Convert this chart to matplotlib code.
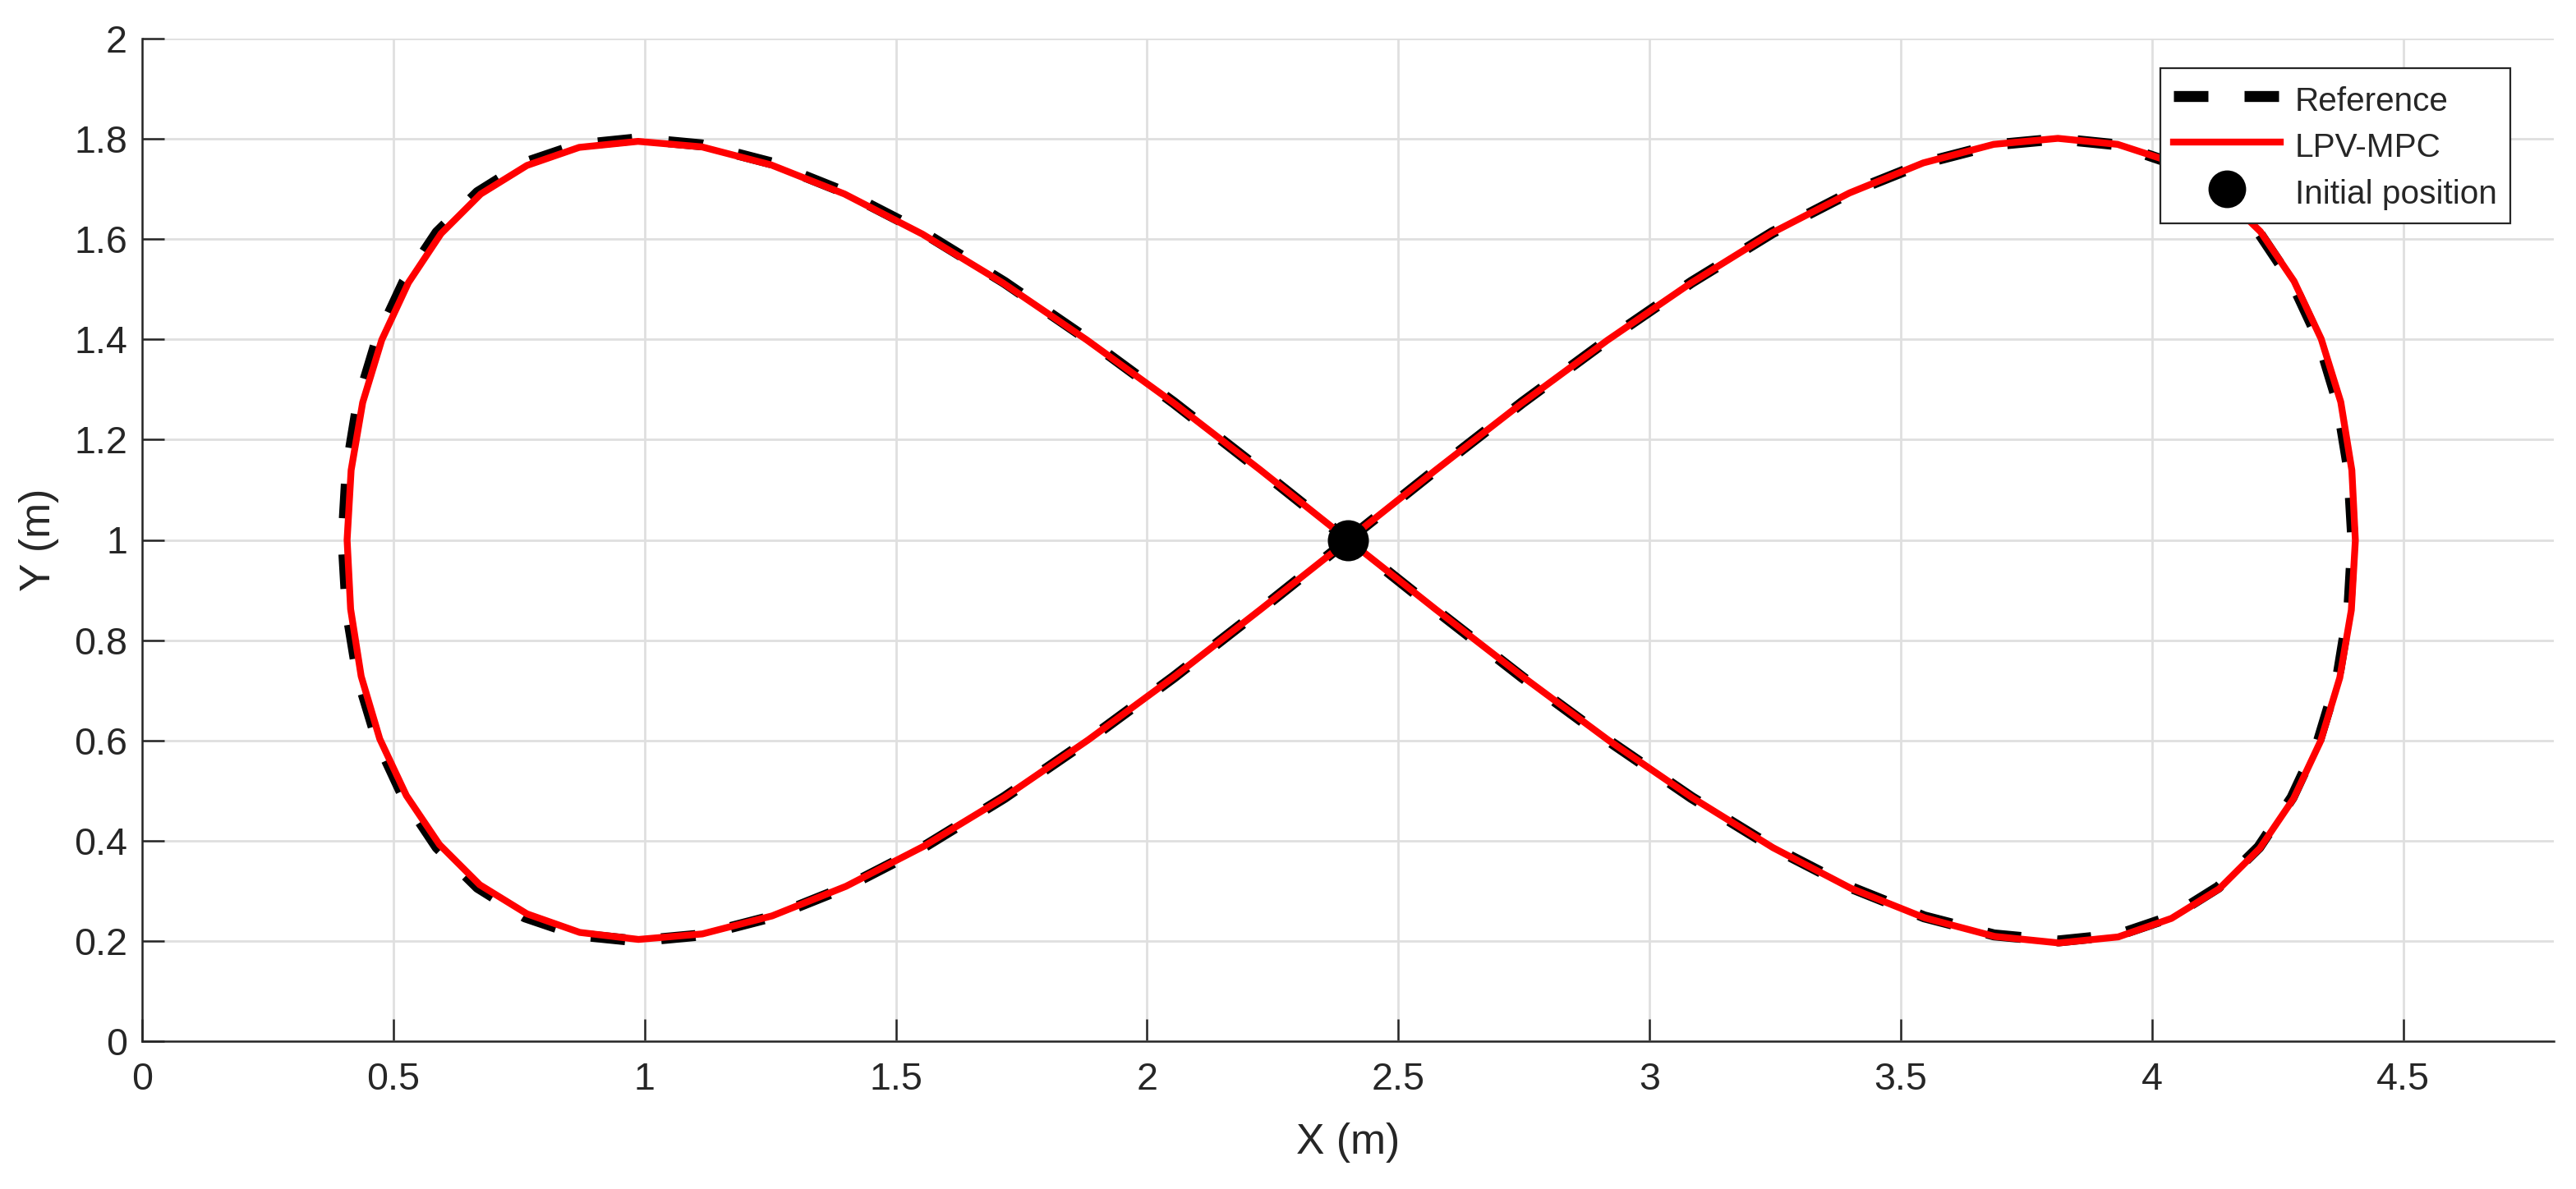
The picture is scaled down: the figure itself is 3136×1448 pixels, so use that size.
import matplotlib
matplotlib.use("Agg")
import matplotlib.pyplot as plt

# Reference trajectory (figure-eight)
x_ref = [2.400, 2.574, 2.747, 2.918, 3.084, 3.245, 3.400, 3.547, 3.686, 3.814,
         3.932, 4.038, 4.132, 4.213, 4.279, 4.332, 4.370, 4.392, 4.400,
         4.392, 4.370, 4.332, 4.279, 4.213, 4.132, 4.038, 3.932, 3.814,
         3.686, 3.547, 3.400, 3.245, 3.084, 2.918, 2.747, 2.574, 2.400,
         2.226, 2.053, 1.882, 1.716, 1.555, 1.400, 1.253, 1.114, 0.986,
         0.868, 0.762, 0.668, 0.587, 0.521, 0.468, 0.430, 0.408, 0.400,
         0.408, 0.430, 0.468, 0.521, 0.587, 0.668, 0.762, 0.868, 0.986,
         1.114, 1.253, 1.400, 1.555, 1.716, 1.882, 2.053, 2.226, 2.400]
y_ref = [1.000, 1.139, 1.274, 1.400, 1.514, 1.613, 1.693, 1.752, 1.788, 1.800,
         1.788, 1.752, 1.693, 1.613, 1.514, 1.400, 1.274, 1.139, 1.000,
         0.861, 0.726, 0.600, 0.486, 0.387, 0.307, 0.248, 0.212, 0.200,
         0.212, 0.248, 0.307, 0.387, 0.486, 0.600, 0.726, 0.861, 1.000,
         1.139, 1.274, 1.400, 1.514, 1.613, 1.693, 1.752, 1.788, 1.800,
         1.788, 1.752, 1.693, 1.613, 1.514, 1.400, 1.274, 1.139, 1.000,
         0.861, 0.726, 0.600, 0.486, 0.387, 0.307, 0.248, 0.212, 0.200,
         0.212, 0.248, 0.307, 0.387, 0.486, 0.600, 0.726, 0.861, 1.000]

# LPV-MPC tracked trajectory
x_mpc = [2.400, 2.573, 2.745, 2.916, 3.082, 3.243, 3.398, 3.545, 3.685, 3.813,
         3.932, 4.039, 4.134, 4.216, 4.283, 4.337, 4.376, 4.398, 4.405,
         4.397, 4.374, 4.336, 4.282, 4.215, 4.134, 4.039, 3.933, 3.815,
         3.687, 3.548, 3.401, 3.246, 3.085, 2.919, 2.748, 2.574, 2.399,
         2.225, 2.052, 1.880, 1.714, 1.553, 1.398, 1.252, 1.114, 0.987,
         0.870, 0.766, 0.674, 0.595, 0.530, 0.477, 0.439, 0.416, 0.408,
         0.415, 0.436, 0.473, 0.526, 0.592, 0.672, 0.766, 0.871, 0.988,
         1.115, 1.254, 1.401, 1.556, 1.717, 1.883, 2.054, 2.227, 2.401]
y_mpc = [1.000, 1.138, 1.272, 1.398, 1.512, 1.612, 1.692, 1.752, 1.789, 1.801,
         1.789, 1.754, 1.695, 1.615, 1.516, 1.401, 1.275, 1.139, 0.999,
         0.860, 0.725, 0.599, 0.484, 0.385, 0.304, 0.245, 0.208, 0.196,
         0.209, 0.246, 0.305, 0.386, 0.486, 0.600, 0.727, 0.862, 1.001,
         1.140, 1.274, 1.399, 1.512, 1.610, 1.690, 1.748, 1.784, 1.795,
         1.783, 1.747, 1.690, 1.611, 1.513, 1.399, 1.274, 1.139, 1.000,
         0.862, 0.728, 0.603, 0.490, 0.392, 0.312, 0.254, 0.217, 0.203,
         0.214, 0.250, 0.309, 0.389, 0.487, 0.601, 0.727, 0.862, 1.000]

x_init = [2.4]
y_init = [1.0]

labels = ["Reference", "LPV-MPC", "Initial position"]
x_ticks = [0, 0.5, 1, 1.5, 2, 2.5, 3, 3.5, 4, 4.5]
x_ticklabels = ["0", "0.5", "1", "1.5", "2", "2.5", "3", "3.5", "4", "4.5"]
y_ticks = [0, 0.2, 0.4, 0.6, 0.8, 1.0, 1.2, 1.4, 1.6, 1.8, 2.0]
y_ticklabels = ["0", "0.2", "0.4", "0.6", "0.8", "1", "1.2", "1.4", "1.6", "1.8", "2"]

plt.rcParams['font.family'] = ['Liberation Sans', 'DejaVu Sans']
dark = '#262626'

fig = plt.figure(figsize=(15.68, 7.24), dpi=200)
ax = fig.add_axes([173/3136, 1 - 1268/1448, (3109-173)/3136, (1268-47)/1448])

ax.plot(x_ref, y_ref, color='black', lw=4.8, linestyle=(0, (3.15, 3.3)),
        dash_capstyle='butt', label=labels[0], zorder=2)
ax.plot(x_mpc, y_mpc, color='#ff0000', lw=3.0, label=labels[1], zorder=3)
ax.plot(x_init, y_init, 'o', color='black', markersize=17, label=labels[2],
        zorder=4, linestyle='none')

ax.set_xlim(0, 4.8)
ax.set_ylim(0, 2)
ax.set_xticks(x_ticks)
ax.set_xticklabels(x_ticklabels)
ax.set_yticks(y_ticks)
ax.set_yticklabels(y_ticklabels)

ax.grid(True, color='#dfdfdf', lw=1.0)
ax.set_axisbelow(True)
for s in ['top', 'right']:
    ax.spines[s].set_visible(False)
for s in ['left', 'bottom']:
    ax.spines[s].set_color(dark)
    ax.spines[s].set_linewidth(0.9)

ax.tick_params(axis='both', direction='in', length=9.6, width=0.9,
               color=dark, labelcolor=dark, labelsize=16.8)
ax.tick_params(axis='x', pad=9)
ax.tick_params(axis='y', pad=6.5)

ax.set_xlabel("X (m)", fontsize=18.6, color=dark)
ax.set_ylabel("Y (m)", fontsize=18.6, color=dark)
ax.xaxis.set_label_coords(0.5, -(1391-1268)/1221)
ax.xaxis.label.set_va('center')
ax.yaxis.set_label_coords(-(173-47)/2936, 0.5)
ax.yaxis.label.set_va('center')

leg = ax.legend(loc='upper right', bbox_to_anchor=((3056-173)/2936, (1268-83)/1221),
                fontsize=14.6, frameon=True, fancybox=False, framealpha=1,
                edgecolor=dark, handlelength=3.2, handleheight=1.3,
                handletextpad=0.44, borderpad=0.4, labelspacing=0.3,
                borderaxespad=0, numpoints=1)
leg.get_frame().set_linewidth(0.8)
leg.legend_handles[2].set_markersize(15.5)
for t in leg.get_texts():
    t.set_color(dark)

fig.savefig("out.png", dpi=200)
